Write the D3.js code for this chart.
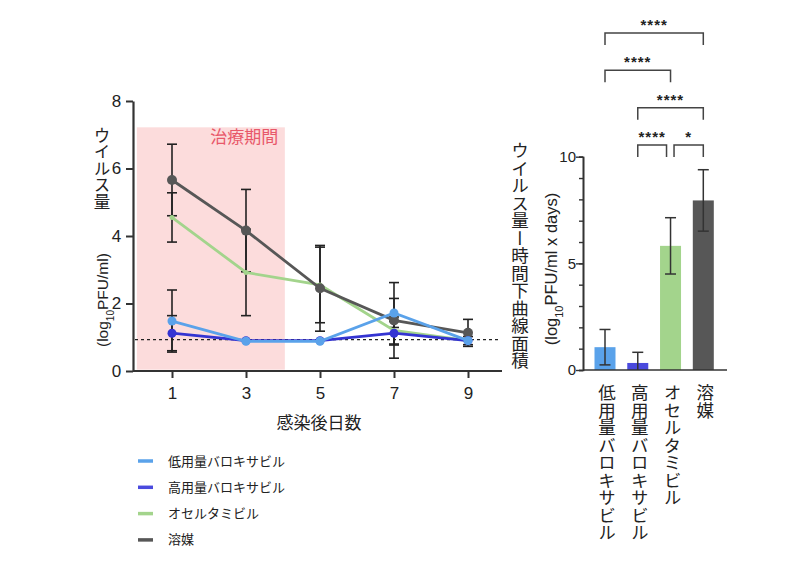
<!DOCTYPE html>
<html>
<head>
<meta charset="utf-8">
<script src="https://cdn.jsdelivr.net/npm/d3@7"></script>
<style>
  body { margin: 0; background: #fff; }
  text { font-family: "Liberation Sans", Arial, sans-serif; fill: #222; }
  .jp { font-family: "Noto Sans CJK JP", sans-serif; }
  .vert { writing-mode: vertical-rl; text-orientation: upright; }
</style>
</head>
<body>
<svg id="chart" width="800" height="568"></svg>
<script>
// Data
const days = [1, 3, 5, 7, 9];
const groups = ["低用量バロキサビル", "高用量バロキサビル", "オセルタミビル", "溶媒"];
const groupColors = ["#5aa2ea", "#3434d2", "#a3d48c", "#575757"];
const legendColors = ["#5aa2ea", "#4a4ade", "#a3d48c", "#575757"];

const lowDoseMean = [1.48, 0.88, 0.88, 1.72, 0.9];
const lowDoseSd = [0.92, 0, 0, 0.43, 0.12];
const highDoseMean = [1.12, 0.9, 0.9, 1.12, 0.9];
const highDoseSd = [0.52, 0, 0, 0.35, 0];
const oseltamivirMean = [4.55, 2.92, 2.55, 1.2, 0.9];
const oseltamivirSd = [0.73, 1.28, 1.12, 0.4, 0];
const vehicleMean = [5.66, 4.16, 2.45, 1.5, 1.13];
const vehicleSd = [1.06, 1.22, 1.27, 1.12, 0.4];

const detectionLimit = 0.93;
const treatmentPeriod = [0.05, 4.05];
const treatmentTop = 7.22;

const aucMean = [1.07, 0.33, 5.82, 7.95];
const aucSd = [0.83, 0.5, 1.32, 1.44];

const sigPairs = [
  { from: 0, to: 3, level: 15.8, label: "****" },
  { from: 0, to: 2, level: 14.05, label: "****" },
  { from: 1, to: 3, level: 12.3, label: "****" },
  { from: 1, to: 2, level: 10.55, label: "****" },
  { from: 2, to: 3, level: 10.55, label: "*" },
];

const svg = d3.select("#chart");

// ---------- left chart: time course ----------
const x = d3.scaleLinear().domain([0, 10]).range([135, 505]);
const y = d3.scaleLinear().domain([0, 8]).range([371, 101]);

const left = svg.append("g");

// treatment period shading
left.append("rect")
  .attr("x", x(treatmentPeriod[0]))
  .attr("y", y(treatmentTop))
  .attr("width", x(treatmentPeriod[1]) - x(treatmentPeriod[0]))
  .attr("height", y(0.04) - y(treatmentTop))
  .attr("fill", "#fcdcdc");

left.append("text")
  .attr("class", "jp")
  .attr("x", x(2.95))
  .attr("y", y(6.75))
  .attr("text-anchor", "middle")
  .style("font-size", "17px")
  .style("fill", "#e8586a")
  .text("治療期間");

// limit of detection
left.append("line")
  .attr("x1", x(0))
  .attr("x2", 500)
  .attr("y1", y(detectionLimit))
  .attr("y2", y(detectionLimit))
  .attr("stroke", "#222")
  .attr("stroke-width", 1.4)
  .attr("stroke-dasharray", "3,3");

// axes
const xAxis = left.append("g")
  .attr("transform", `translate(0,${y(0)})`)
  .call(d3.axisBottom(x).tickValues(days).tickSize(7).tickSizeOuter(0));
xAxis.select(".domain").attr("d", `M133,0H502`);

const yAxis = left.append("g")
  .attr("transform", "translate(133,0)")
  .call(d3.axisLeft(y).tickValues([0, 2, 4, 6, 8]).tickSize(7).tickSizeOuter(0));

[xAxis, yAxis].forEach((a) => {
  a.select(".domain").attr("stroke", "#333").attr("stroke-width", 2.2);
  a.selectAll(".tick line").attr("stroke", "#333").attr("stroke-width", 2);
  a.selectAll(".tick text")
    .style("font-size", "17px")
    .style("font-family", "Liberation Sans, Arial, sans-serif")
    .attr("fill", "#222");
});
xAxis.selectAll(".tick text").attr("dy", "1.05em");
yAxis.selectAll(".tick text").attr("dx", "-0.1em");

left.append("text")
  .attr("class", "jp")
  .attr("x", 319)
  .attr("y", 429)
  .attr("text-anchor", "middle")
  .style("font-size", "17px")
  .text("感染後日数");

// y label: upright Japanese then rotated unit
left.append("text")
  .attr("class", "jp vert")
  .attr("x", 102)
  .attr("y", 127)
  .style("font-size", "16.5px")
  .text("ウイルス量");

const unitL = left.append("text")
  .attr("transform", "translate(108,347) rotate(-90)")
  .style("font-size", "15.5px");
unitL.append("tspan").text("(log");
unitL.append("tspan").attr("baseline-shift", "sub").style("font-size", "10px").text("10");
unitL.append("tspan").text("PFU/ml)");

// series
const series = [
  { name: groups[2], color: groupColors[2], mean: oseltamivirMean, sd: oseltamivirSd, r: 2.5 },
  { name: groups[3], color: groupColors[3], mean: vehicleMean, sd: vehicleSd, r: 5 },
  { name: groups[1], color: groupColors[1], mean: highDoseMean, sd: highDoseSd, r: 4.5 },
  { name: groups[0], color: groupColors[0], mean: lowDoseMean, sd: lowDoseSd, r: 4.5 },
];

const errG = left.append("g");
series.forEach((s) => {
  const pts = days.map((d, i) => ({ d, m: s.mean[i], e: s.sd[i] })).filter((p) => p.e > 0);
  const g = errG.selectAll(null).data(pts).enter().append("g");
  g.append("line")
    .attr("x1", (p) => x(p.d)).attr("x2", (p) => x(p.d))
    .attr("y1", (p) => y(p.m - p.e)).attr("y2", (p) => y(p.m + p.e));
  g.append("line")
    .attr("x1", (p) => x(p.d) - 5).attr("x2", (p) => x(p.d) + 5)
    .attr("y1", (p) => y(p.m + p.e)).attr("y2", (p) => y(p.m + p.e));
  g.append("line")
    .attr("x1", (p) => x(p.d) - 5).attr("x2", (p) => x(p.d) + 5)
    .attr("y1", (p) => y(p.m - p.e)).attr("y2", (p) => y(p.m - p.e));
  g.selectAll("line").attr("stroke", "#222").attr("stroke-width", 1.6);
});

const line = d3.line().x((p) => x(p.d)).y((p) => y(p.m));
series.forEach((s) => {
  const pts = days.map((d, i) => ({ d, m: s.mean[i] }));
  left.append("path")
    .datum(pts)
    .attr("d", line)
    .attr("fill", "none")
    .attr("stroke", s.color)
    .attr("stroke-width", 2.8);
  left.selectAll(null)
    .data(pts)
    .enter()
    .append("circle")
    .attr("cx", (p) => x(p.d))
    .attr("cy", (p) => y(p.m))
    .attr("r", s.r)
    .attr("fill", s.color);
});

// legend
const legend = svg.append("g")
  .selectAll("g")
  .data(groups)
  .enter()
  .append("g")
  .attr("transform", (d, i) => `translate(138,${461 + i * 26.3})`);
legend.append("line")
  .attr("x1", 0).attr("x2", 15)
  .attr("stroke", (d, i) => legendColors[i])
  .attr("stroke-width", 3.5);
legend.append("text")
  .attr("class", "jp")
  .attr("x", 30)
  .attr("dy", "0.35em")
  .style("font-size", "13px")
  .text((d) => d);

// ---------- right chart: AUC bars ----------
const bars = groups.map((g, i) => ({ name: g, mean: aucMean[i], sd: aucSd[i], color: legendColors[i] }));
const bx = d3.scalePoint().domain(groups).range([605, 703.3]);
const by = d3.scaleLinear().domain([0, 10]).range([370, 156.7]);
const barW = 21;

const right = svg.append("g");

right.selectAll("rect")
  .data(bars)
  .enter()
  .append("rect")
  .attr("x", (d) => bx(d.name) - barW / 2)
  .attr("y", (d) => by(d.mean))
  .attr("width", barW)
  .attr("height", (d) => by(0) - by(d.mean))
  .attr("fill", (d) => d.color);

const barErr = right.selectAll(null)
  .data(bars)
  .enter()
  .append("g")
  .attr("stroke", "#333")
  .attr("stroke-width", 1.5);
barErr.append("line")
  .attr("x1", (d) => bx(d.name)).attr("x2", (d) => bx(d.name))
  .attr("y1", (d) => by(Math.max(0, d.mean - d.sd)))
  .attr("y2", (d) => by(d.mean + d.sd));
barErr.append("line")
  .attr("x1", (d) => bx(d.name) - 5.5).attr("x2", (d) => bx(d.name) + 5.5)
  .attr("y1", (d) => by(d.mean + d.sd))
  .attr("y2", (d) => by(d.mean + d.sd));
barErr.filter((d) => d.mean - d.sd > 0)
  .append("line")
  .attr("x1", (d) => bx(d.name) - 5.5).attr("x2", (d) => bx(d.name) + 5.5)
  .attr("y1", (d) => by(d.mean - d.sd))
  .attr("y2", (d) => by(d.mean - d.sd));

// axes
const byAxisMinor = right.append("g")
  .attr("transform", "translate(583,0)")
  .call(d3.axisLeft(by).tickValues(d3.range(0, 11)).tickSize(4).tickFormat(""));
const byAxis = right.append("g")
  .attr("transform", "translate(583,0)")
  .call(d3.axisLeft(by).tickValues([0, 5, 10]).tickSize(7).tickSizeOuter(0));
[byAxisMinor, byAxis].forEach((a) => {
  a.select(".domain").attr("stroke", "#333").attr("stroke-width", 1.6);
  a.selectAll(".tick line").attr("stroke", "#333").attr("stroke-width", 1.4);
});
byAxis.selectAll(".tick text")
  .style("font-size", "15px")
  .style("font-family", "Liberation Sans, Arial, sans-serif")
  .attr("fill", "#222")
  .attr("dx", "0.2em");

right.append("line")
  .attr("x1", 583).attr("x2", 727)
  .attr("y1", by(0)).attr("y2", by(0))
  .attr("stroke", "#333")
  .attr("stroke-width", 1.6);

// category labels (vertical)
right.selectAll(".cat")
  .data(groups)
  .enter()
  .append("text")
  .attr("class", "jp vert cat")
  .attr("x", (d) => bx(d) + 2)
  .attr("y", 384)
  .style("font-size", "17.5px")
  .text((d) => d);

// y label
right.append("text")
  .attr("class", "jp vert")
  .attr("x", 520)
  .attr("y", 142)
  .style("font-size", "17.5px")
  .text("ウイルス量ー時間下曲線面積");

const unitR = right.append("text")
  .attr("transform", "translate(557,269) rotate(-90)")
  .attr("text-anchor", "middle")
  .style("font-size", "16.5px");
unitR.append("tspan").text("(log");
unitR.append("tspan").attr("baseline-shift", "sub").style("font-size", "11px").text("10");
unitR.append("tspan").text("PFU/ml x days)");

// significance brackets
const bracket = right.selectAll(".sig")
  .data(sigPairs)
  .enter()
  .append("g")
  .attr("class", "sig");

function ends(p) {
  const shareLeft = sigPairs.some((q) => q !== p && q.level === p.level && q.to === p.from);
  const shareRight = sigPairs.some((q) => q !== p && q.level === p.level && q.from === p.to);
  return [bx(groups[p.from]) + (shareLeft ? 3.5 : 0), bx(groups[p.to]) - (shareRight ? 4 : 0)];
}

bracket.append("path")
  .attr("d", (p) => {
    const [x1, x2] = ends(p);
    const yy = by(p.level);
    return `M${x1},${yy + 12}V${yy}H${x2}V${yy + 12}`;
  })
  .attr("fill", "none")
  .attr("stroke", "#444")
  .attr("stroke-width", 1.5);

bracket.append("text")
  .attr("x", (p) => d3.mean(ends(p)))
  .attr("y", (p) => by(p.level) - 3)
  .attr("text-anchor", "middle")
  .style("font-size", "15px")
  .style("font-weight", "bold")
  .style("letter-spacing", "1px")
  .text((p) => p.label);
</script>
</body>
</html>
